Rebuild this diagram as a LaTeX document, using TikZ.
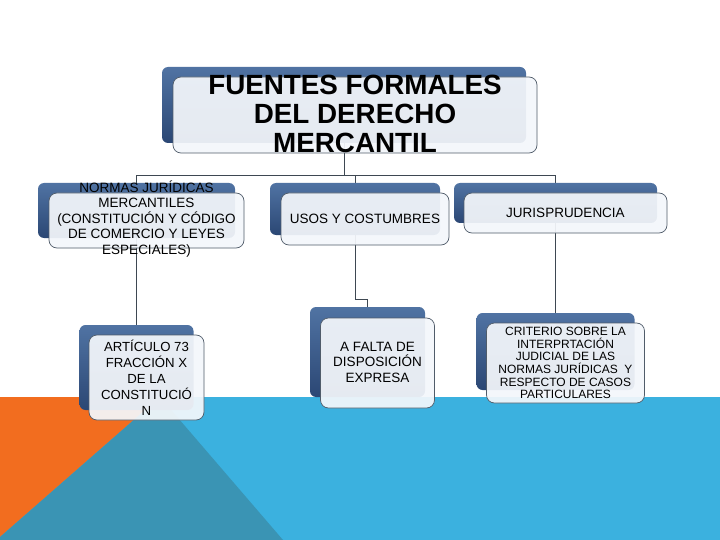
\documentclass[tikz,border=0pt]{standalone}
\usepackage{fontspec}
\setmainfont{Liberation Sans}
\usetikzlibrary{backgrounds,calc}
\definecolor{orng}{HTML}{F26D1F}
\definecolor{tealx}{HTML}{3A94B4}
\definecolor{sky}{HTML}{3BB1DF}
\definecolor{darkA}{HTML}{5073A3}
\definecolor{darkB}{HTML}{2B4774}
\definecolor{lightF}{HTML}{F4F7FB}
\definecolor{edgeC}{HTML}{505C6A}
\definecolor{lineC}{HTML}{3E4852}
\begin{document}
\begin{tikzpicture}[x=1pt,y=-1pt,
  darkbox/.style={rounded corners=6pt, top color=darkA, bottom color=darkB, draw=none, inner sep=0pt},
  lightbox/.style={rounded corners=8pt, fill=lightF, fill opacity=0.93, draw=edgeC, line width=0.7pt, inner sep=0pt},
  boxtext/.style={inner sep=0pt, align=center, text=black, font=\fontsize{13.5}{15.5}\selectfont},
  conn/.style={draw=lineC, line width=0.9pt}]
\useasboundingbox (0,0) rectangle (720,540);
\begin{pgfonlayer}{background}
  \fill[white] (0,0) rectangle (720,540);
  \fill[sky] (0,397) rectangle (720,540);
  \fill[orng] (0,397) -- (160,397) -- (0,537) -- cycle;
  \fill[tealx] (160,397) -- (283,540) -- (0,540) -- (0,537) -- cycle;
\end{pgfonlayer}

% top
\node[darkbox, minimum width=364, minimum height=76] (top) at (344,105) {};
\node[lightbox, minimum width=364, minimum height=76] (topL) at ([shift={(11,10)}]top.center) {};
\node[boxtext, font=\fontsize{27.8}{29}\selectfont\bfseries] (topT) at ([shift={(0,-1)}]topL.center) {FUENTES FORMALES\\DEL DERECHO\\MERCANTIL};

% level 1
\node[darkbox, minimum width=197, minimum height=55] (normas) at (136.5,210.5) {};
\node[lightbox, minimum width=195, minimum height=55] (normasL) at ([shift={(10,10)}]normas.center) {};
\node[boxtext] (normasT) at ([shift={(0,-1.5)}]normasL.center) {NORMAS JURÍDICAS\\MERCANTILES\\(CONSTITUCIÓN Y CÓDIGO\\DE COMERCIO Y LEYES\\ESPECIALES)};

\node[darkbox, minimum width=170, minimum height=52] (usos) at (355,209) {};
\node[lightbox, minimum width=168, minimum height=52] (usosL) at ([shift={(10,10)}]usos.center) {};
\node[boxtext] (usosT) at (usosL.center) {USOS Y COSTUMBRES};

\node[darkbox, minimum width=203, minimum height=40] (juris) at (555.5,203) {};
\node[lightbox, minimum width=203, minimum height=40] (jurisL) at ([shift={(10,10)}]juris.center) {};
\node[boxtext] (jurisT) at (jurisL.center) {JURISPRUDENCIA};

% level 2
\node[darkbox, minimum width=114, minimum height=85] (art) at (136.5,367.5) {};
\node[lightbox, minimum width=115, minimum height=85] (artL) at ([shift={(10,10)}]art.center) {};
\node[boxtext, font=\fontsize{13.2}{16}\selectfont] (artT) at (artL.center) {ARTÍCULO 73\\FRACCIÓN X\\DE LA\\CONSTITUCIÓ\\N};

\node[darkbox, minimum width=115, minimum height=90] (afalta) at (367.5,352) {};
\node[lightbox, minimum width=114, minimum height=90] (afaltaL) at ([shift={(10,11)}]afalta.center) {};
\node[boxtext] (afaltaT) at ([shift={(0,-1)}]afaltaL.center) {A FALTA DE\\DISPOSICIÓN\\EXPRESA};

\node[darkbox, minimum width=158, minimum height=77] (crit) at (555.5,351.5) {};
\node[lightbox, minimum width=158, minimum height=80] (critL) at ([shift={(10,11.5)}]crit.center) {};
\node[boxtext, font=\fontsize{12}{12.7}\selectfont] (critT) at (critL.center) {CRITERIO SOBRE LA\\INTERPRTACIÓN\\JUDICIAL DE LAS\\NORMAS JURÍDICAS\ \ Y\\RESPECTO DE CASOS\\PARTICULARES};

% connectors
\coordinate (bus) at (344,175);
\coordinate (bend) at (355,299);
\begin{pgfonlayer}{background}
  \draw[conn] (top.south) -- (bus);
  \draw[conn] (normas.north) |- (bus);
  \draw[conn] (usos.north) |- (bus);
  \draw[conn] (juris.north) |- (bus);
  \draw[conn] (normas.south) -- (art.north);
  \draw[conn] (usos.south) |- (bend) -| (afalta.north);
  \draw[conn] (juris.south) -- (crit.north);
\end{pgfonlayer}
\end{tikzpicture}
\end{document}
